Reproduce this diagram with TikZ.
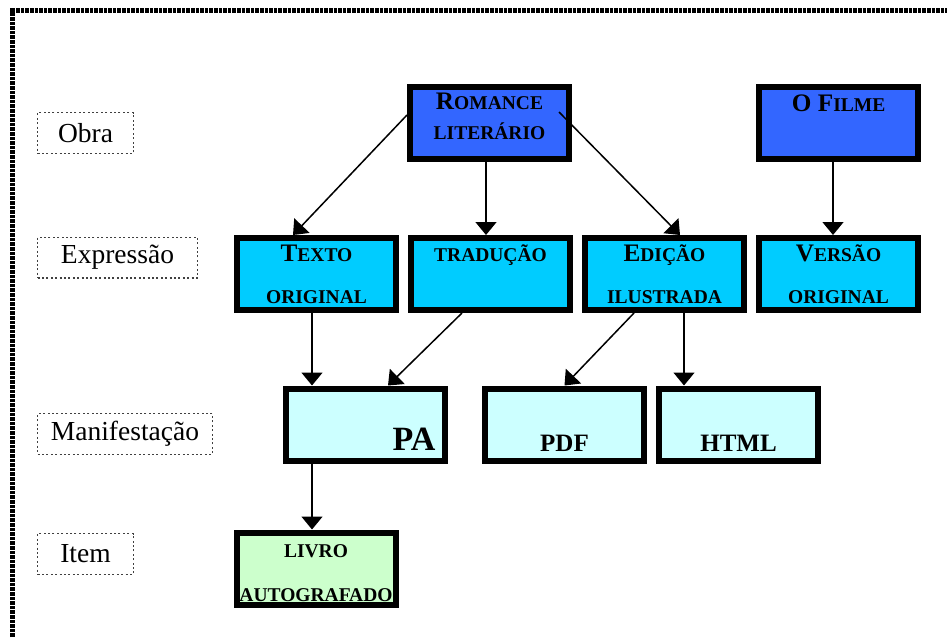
\documentclass[tikz,border=0pt]{standalone}
\usepackage{fontspec}
\setmainfont{Liberation Serif}
\usetikzlibrary{arrows.meta}
\usetikzlibrary{calc}

\definecolor{obrablue}{HTML}{3366FF}
\definecolor{exprcyan}{HTML}{00CCFF}
\definecolor{maniflight}{HTML}{CCFFFF}
\definecolor{itemgreen}{HTML}{CCFFCC}

\newcommand{\frbig}[1]{{\fontsize{12.6}{12.6}\selectfont #1}}
\newcommand{\boxfont}[1]{\fontsize{9.75}{#1}\selectfont\bfseries}

\tikzset{
	entity/.style={draw, line width=3pt, minimum width=79.5pt, minimum height=36pt,
		inner sep=0pt, text width=78pt, align=center},
	level/.style={draw=black!75, line width=0.6pt, dash pattern=on 1pt off 1.2pt,
		minimum height=20.4pt, inner sep=0pt, font=\fontsize{13.75}{16}\selectfont},
	rel/.style={-{Triangle[width=10.5pt,length=6.5pt]}, line width=0.75pt},
}

\begin{document}
\begin{tikzpicture}[x=0.5pt, y=-0.5pt]
	\useasboundingbox (0,0) rectangle (947,637);

	% Frame
	\draw[line width=2.4pt, dash pattern=on 1.8pt off 0.5pt] (12.5,637) -- (12.5,10.5) -- (947,10.5);

	% Levels
	\begin{scope}
		\node[level, minimum width=47.9pt] (lobra) at (85.5,133) {Obra};
		\node[level, minimum width=79.9pt] (lexpr) at (117.5,257.5) {Expressão};
		\node[level, minimum width=87.4pt] (lmanif) at (125,434) {Manifestação};
		\node[level, minimum width=47.9pt] (litem) at (85.5,554) {Item};
	\end{scope}

	% Obras
	\begin{scope}
		\node[entity, fill=obrablue, font=\boxfont{15pt}] (romance) at (489.5,122.5)
			{\frbig{R}OMANCE\\LITERÁRIO\rule[-6.3pt]{0pt}{0pt}};
		\node[entity, fill=obrablue, font=\boxfont{19.8pt}] (filme) at (838.5,122.5)
			{\frbig{O} \frbig{F}ILME\\\mbox{}};
	\end{scope}

	% Expressoes
	\begin{scope}
		\node[entity, fill=exprcyan, font=\boxfont{21pt}] (texto) at (316.5,274)
			{\frbig{T}EXTO\\ORIGINAL};
		\node[entity, fill=exprcyan, font=\boxfont{21pt}] (traducao) at (490.5,274)
			{TRADUÇÃO\\\mbox{}};
		\node[entity, fill=exprcyan, font=\boxfont{21pt}] (edicao) at (664.5,274)
			{\frbig{E}DIÇÃO\\ILUSTRADA};
		\node[entity, fill=exprcyan, font=\boxfont{21pt}] (versao) at (838.5,274)
			{\frbig{V}ERSÃO\\ORIGINAL};
	\end{scope}

	% Manifestacoes
	\begin{scope}
		\node[entity, fill=maniflight, text width=70pt, align=right,
			font=\fontsize{17}{26.2pt}\selectfont\bfseries] (pa) at (365.5,424.5) {\mbox{}\\PA};
		\node[entity, fill=maniflight, font=\fontsize{12.5}{26.75pt}\selectfont\bfseries] (pdf) at (564.5,424.5)
			{\mbox{}\\PDF};
		\node[entity, fill=maniflight, font=\fontsize{12.5}{26.75pt}\selectfont\bfseries] (html) at (738.5,424.5)
			{\mbox{}\\HTML};
	\end{scope}

	% Item
	\node[entity, fill=itemgreen, font=\boxfont{22pt}] (livro) at (316,568.5)
		{\rule{0pt}{11pt}LIVRO\\AUTOGRAFADO};

	% Relations
	\draw[rel] ($(romance.west)+(0,-7.5)$) -- ($(texto.north)+(-23.5,0)$);
	\draw[rel] ($(romance.south)+(-3.5,0)$) -- ($(traducao.north)+(-4.5,0)$);
	\draw[rel] ($(romance.center)+(69.5,-10.5)$) -- ($(edicao.north)+(15.5,0)$);
	\draw[rel] ($(filme.south)+(-5.5,0)$) -- ($(versao.north)+(-5.5,0)$);
	\draw[rel] ($(texto.south)+(-4.5,0)$) -- ($(pa.north)+(-53.5,0)$);
	\draw[rel] ($(traducao.south)+(-28.5,0)$) -- ($(pa.north)+(22.5,0)$);
	\draw[rel] ($(edicao.south)+(-30.5,0)$) -- (pdf.north);
	\draw[rel] ($(edicao.south)+(19.5,0)$) -- ($(html.north)+(-54.5,0)$);
	\draw[rel] ($(pa.south)+(-53.5,0)$) -- ($(livro.north)+(-4,0)$);
\end{tikzpicture}
\end{document}
